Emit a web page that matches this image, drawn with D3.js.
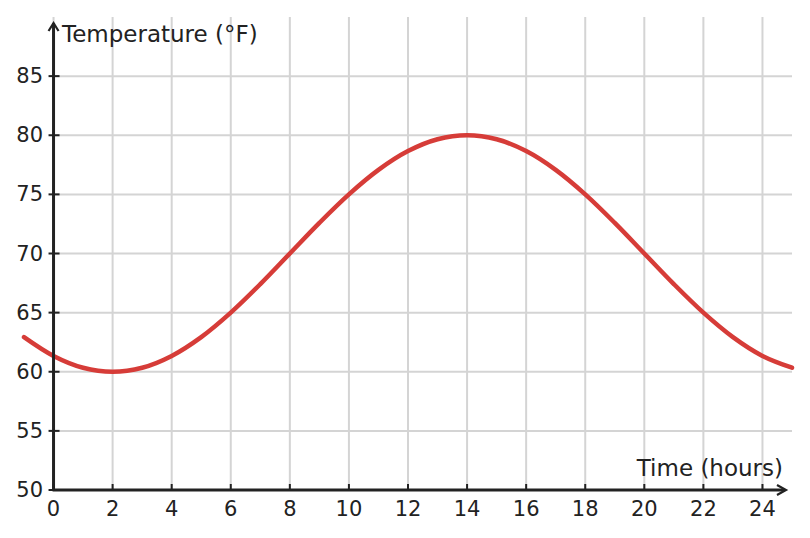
<!DOCTYPE html>
<html><head><meta charset="utf-8">
<script src="https://cdn.jsdelivr.net/npm/d3@7"></script>
<style>body{margin:0;background:#fff}svg{display:block}text{font-family:"DejaVu Sans",sans-serif;fill:#222}</style>
</head><body><svg id="c" width="810" height="538"></svg>
<script>
const hours = [-1,0,1,2,3,4,5,6,7,8,9,10,11,12,13,14,15,16,17,18,19,20,21,22,23,24,25];
const temps = [62.93,61.34,60.34,60,60.34,61.34,62.93,65,67.41,70,72.59,75,77.07,78.66,79.66,80,79.66,78.66,77.07,75,72.59,70,67.41,65,62.93,61.34,60.34];
const xTicks = [0,2,4,6,8,10,12,14,16,18,20,22,24];
const yTicks = [50,55,60,65,70,75,80,85];
const xLabel = "Time (hours)";
const yLabel = "Temperature (°F)";

const svg = d3.select("#c");
const x = d3.scaleLinear().domain([-1,25]).range([24,792]);
const y = d3.scaleLinear().domain([50,90]).range([490,17]);
const grid = "#d4d4d4", ink = "#222";

// grid
svg.append("g").selectAll("line").data(xTicks).join("line")
  .attr("x1",d=>x(d)).attr("x2",d=>x(d)).attr("y1",y(90)).attr("y2",y(50))
  .attr("stroke",grid).attr("stroke-width",2);
svg.append("g").selectAll("line").data(yTicks.filter(d=>d>50)).join("line")
  .attr("x1",x(0)).attr("x2",x(25)).attr("y1",d=>y(d)).attr("y2",d=>y(d))
  .attr("stroke",grid).attr("stroke-width",2);

// curve
const pts = hours.map((h,i)=>[h,temps[i]]);
svg.append("path").datum(pts)
  .attr("d", d3.line().x(d=>x(d[0])).y(d=>y(d[1])).curve(d3.curveCatmullRom.alpha(0.5)))
  .attr("fill","none").attr("stroke","#d63c38").attr("stroke-width",4.5).attr("stroke-linecap","round");

// axes
svg.append("line").attr("x1",x(0)).attr("x2",x(0)).attr("y1",y(50)+1).attr("y2",23)
  .attr("stroke",ink).attr("stroke-width",3);
svg.append("path").attr("d",`M${x(0)-5},${31} L${x(0)},${23} L${x(0)+5},${31}`)
  .attr("fill","none").attr("stroke",ink).attr("stroke-width",2.2);
svg.append("line").attr("x1",x(0)-1).attr("x2",785).attr("y1",y(50)).attr("y2",y(50))
  .attr("stroke",ink).attr("stroke-width",3);
svg.append("path").attr("d",`M${777},${y(50)-5} L${786},${y(50)} L${777},${y(50)+5}`)
  .attr("fill","none").attr("stroke",ink).attr("stroke-width",2.2);

// ticks
svg.append("g").selectAll("line").data(yTicks).join("line")
  .attr("x1",x(0)-5).attr("x2",x(0)+6).attr("y1",d=>y(d)).attr("y2",d=>y(d))
  .attr("stroke",ink).attr("stroke-width",2);
svg.append("g").selectAll("line").data(xTicks).join("line")
  .attr("x1",d=>x(d)).attr("x2",d=>x(d)).attr("y1",y(50)-6).attr("y2",y(50))
  .attr("stroke",ink).attr("stroke-width",2);

svg.append("g").selectAll("text").data(yTicks).join("text")
  .attr("x",43).attr("y",d=>y(d)+7).attr("text-anchor","end")
  .attr("font-size",21).text(d=>d);
svg.append("g").selectAll("text").data(xTicks).join("text")
  .attr("x",d=>x(d)).attr("y",516).attr("text-anchor","middle")
  .attr("font-size",21).text(d=>d);

svg.append("text").attr("x",62).attr("y",42).attr("font-size",23).text(yLabel);
svg.append("text").attr("x",783).attr("y",476).attr("text-anchor","end").attr("font-size",23).text(xLabel);
</script></body></html>
